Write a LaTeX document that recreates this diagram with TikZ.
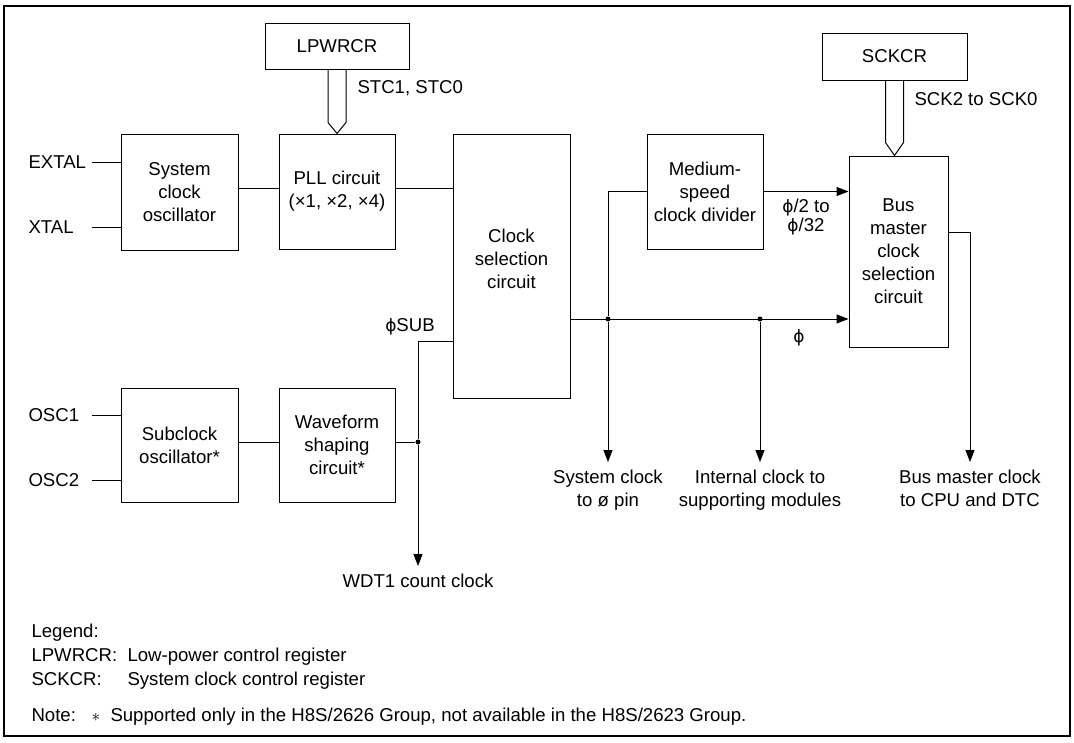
\documentclass[tikz,border=0pt]{standalone}
\usepackage{fontspec}
\setmainfont{Liberation Sans}
\newfontfamily\dejavu{DejaVu Sans}
\newcommand{\phis}{{\dejavu\fontsize{17}{23}\selectfont ϕ}}
\usetikzlibrary{arrows.meta,calc}
\tikzset{>={Triangle[length=12pt,width=9pt]},every node/.style={font=\fontsize{18.6}{23}\selectfont},
 block/.style={draw,line width=1pt,align=center,inner sep=0pt},lbl/.style={inner sep=0pt},
 outlbl/.style={align=center,inner sep=0pt,outer sep=8pt,anchor=north},
 dot/.style={circle,fill,inner sep=0pt,minimum size=5pt}}
\begin{document}
\begin{tikzpicture}[x=1pt,y=-1pt,line width=1pt]
\useasboundingbox (0,0) rectangle (1074,742);
\draw[line width=2.5pt] (4,6) rectangle (1070,736);
% registers
\node[block,minimum width=144pt,minimum height=46pt] (lpwrcr) at (337,46) {LPWRCR};
\node[block,minimum width=145pt,minimum height=47pt] (sckcr) at (894.5,56.5) {SCKCR};
\node[lbl,anchor=west] (stc) at (357,88) {STC1, STC0};
\node[lbl,anchor=west] (sck) at (914,99) {SCK2 to SCK0};
% blocks
\node[block,minimum width=117pt,minimum height=116pt] (sysosc) at (179.5,192) {System\\clock\\oscillator};
\node[block,minimum width=116pt,minimum height=115pt] (pll) at (337,191.5) {PLL circuit\\(×1, ×2, ×4)};
\node[block,minimum width=117pt,minimum height=264pt] (clksel) at (511.5,266) {Clock\\selection\\circuit\rule[-14pt]{0pt}{0pt}};
\node[block,minimum width=116pt,minimum height=115pt] (medspd) at (705,191.5) {Medium-\\speed\\clock divider};
\node[block,minimum width=99pt,minimum height=191pt] (busmst) at (898.5,251.5) {Bus\\master\\clock\\selection\\circuit};
\node[block,minimum width=117pt,minimum height=114pt] (subosc) at (179.5,445) {Subclock\\oscillator*};
\node[block,minimum width=116pt,minimum height=114pt] (wave) at (337,445) {Waveform\\shaping\\circuit*};
\draw ($(lpwrcr.south)+(-9,0)$) -- ($(pll.north)+(-9,-11)$) -- (pll.north) -- ($(pll.north)+(9,-11)$) -- ($(lpwrcr.south)+(9,0)$);
\draw ($(sckcr.south)+(-9,0)$) -- ($(sckcr.south |- busmst.north)+(-9,-13)$) -- (sckcr.south |- busmst.north)
 -- ($(sckcr.south |- busmst.north)+(9,-13)$) -- ($(sckcr.south)+(9,0)$);
% pins
\node[lbl,anchor=west] (extal) at (28,162) {EXTAL};
\node[lbl,anchor=west] (xtal) at (28,227) {XTAL};
\node[lbl,anchor=west] (osc1) at (28,415) {OSC1};
\node[lbl,anchor=west] (osc2) at (28,480) {OSC2};
\foreach \p/\b in {extal/sysosc,xtal/sysosc,osc1/subosc,osc2/subosc}
 \draw (\b.west |- \p) -- ++(-29,0);
% clock paths
\node[dot] (sysdot) at (608,319) {};
\node[dot] (inndot) at (760,319) {};
\node[dot] (subdot) at (418,442) {};
\draw (sysosc.east |- 0,188) -- (pll.west |- 0,188);
\draw (pll.east |- 0,188) -- (clksel.west |- 0,188);
\draw[->] (clksel.east |- sysdot) -- (busmst.west |- sysdot);
\draw (sysdot) |- (medspd.west);
\draw[->] (medspd.east) -- (medspd.east -| busmst.west);
\draw (clksel.west |- 0,341) -| (subdot);
\draw (subosc.east |- subdot) -- (wave.west |- subdot);
\draw (wave.east |- subdot) -- (subdot);
\node[lbl] (phisub) at (410,327) {\phis SUB};
\node[lbl,align=center,font=\fontsize{18.6}{19}\selectfont] (divlbl) at (806,217) {\phis/2 to\\\phis/32};
\node[lbl] (philbl) at (799,338) {\phis};
% outputs
\node[outlbl] (sysclk) at (608,462) {System clock\\to ø pin};
\node[outlbl] (intclk) at (760,462) {Internal clock to\\supporting modules};
\node[outlbl] (busclk) at (970,462) {Bus master clock\\to CPU and DTC};
\node[outlbl] (wdt) at (418,566) {WDT1 count clock};
\draw[->] (sysdot) -- (sysclk);
\draw[->] (inndot) -- (intclk);
\draw[->] (busmst.east |- 0,232) -| (busclk);
\draw[->] (subdot) -- (wdt);
% legend
\node[lbl,anchor=base west] (legend) at (31,637) {Legend:};
\node[lbl,anchor=base west] (lpkey) at (31,661) {LPWRCR:};
\node[lbl,anchor=base west] (lpdesc) at (127,661) {Low-power control register};
\node[lbl,anchor=base west] (sckey) at (31,685) {SCKCR:};
\node[lbl,anchor=base west] (scdesc) at (127,685) {System clock control register};
\node[lbl,anchor=base west] (note) at (31,721) {Note:};
\node[lbl,anchor=base west] (notestar) at (91,721) {$\ast$};
\node[lbl,anchor=base west] (notetxt) at (110,721) {Supported only in the H8S/2626 Group, not available in the H8S/2623 Group.};
\end{tikzpicture}
\end{document}
